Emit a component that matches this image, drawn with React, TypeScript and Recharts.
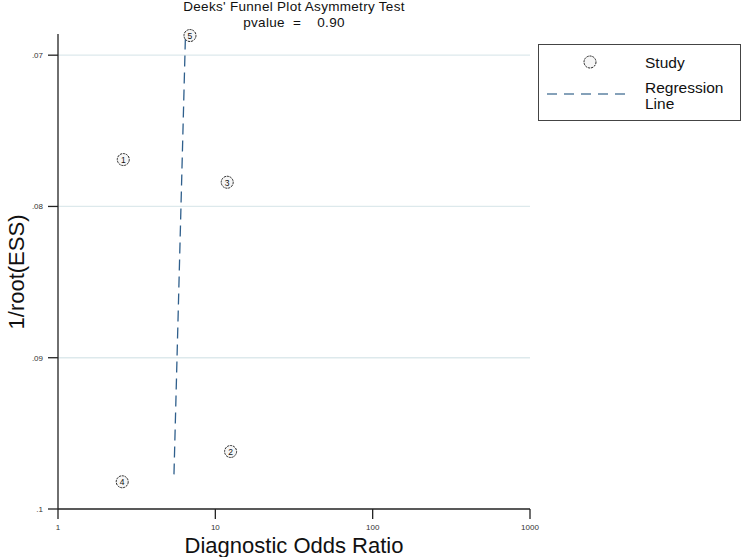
import { ScatterChart, Scatter, XAxis, YAxis, CartesianGrid } from "recharts";

// studies: id, diagnostic odds ratio, 1/root(ESS)
const studyIds = [1, 2, 3, 4, 5];
const dorValues = [2.6, 12.5, 11.9, 2.56, 6.9];
const invRootEss = [0.0769, 0.0962, 0.0784, 0.0982, 0.0687];

// regression line end points
const regDor = [6.45, 5.45];
const regInvRootEss = [0.0689, 0.098];

const xTicks = [1, 10, 100, 1000];
const yTicks = [0.07, 0.08, 0.09, 0.1];
const gridValues = [0.07, 0.08, 0.09];

const studies = studyIds.map((id, i) => ({
  id,
  x: dorValues[i],
  y: invRootEss[i],
}));
const regLine = regDor.map((x, i) => ({ x, y: regInvRootEss[i] }));

const font = "'Liberation Sans', Arial, sans-serif";
const lineColor = "#2f5f8c";

function StudyMarker(props: any) {
  const { cx, cy, payload } = props;
  return (
    <g>
      <circle cx={cx} cy={cy} r={6} fill="#f6f6f6" stroke="#111" strokeWidth={0.9} strokeDasharray="2.2 0.8" />
      <text x={cx} y={cy + 0.5} textAnchor="middle" dominantBaseline="central" fontSize={8.5} fill="#111" fontFamily={font}>
        {payload.id}
      </text>
    </g>
  );
}

const fmtY = (v: number) => (v === 0.1 ? ".1" : v.toFixed(2).replace(/^0/, ""));

export default function App() {
  return (
    <div style={{ position: "absolute", left: 0, top: 0, width: 742, height: 557, background: "#fff", fontFamily: font }}>
      {/* title */}
      <div style={{ position: "absolute", left: 58, width: 472, top: -1, textAlign: "center", fontSize: 13.5, lineHeight: "15.5px", letterSpacing: 0.3, color: "#111" }}>
        <div>Deeks' Funnel Plot Asymmetry Test</div>
        <div style={{ whiteSpace: "pre" }}>{"pvalue  =    0.90"}</div>
      </div>

      <ScatterChart width={742} height={557} margin={{ top: 34, right: 212, bottom: 0, left: 0 }}>
        <CartesianGrid horizontal vertical={false} horizontalValues={gridValues} stroke="#dde9ec" strokeWidth={1.3} />
        <XAxis
          type="number"
          dataKey="x"
          scale="log"
          domain={[1, 1000]}
          ticks={xTicks}
          allowDataOverflow
          height={48}
          tickSize={10}
          tickMargin={5}
          stroke="#222"
          strokeWidth={1.3}
          tick={{ fontSize: 8, fill: "#333", fontFamily: font }}
          label={{ value: "Diagnostic Odds Ratio", position: "insideBottom", offset: 4, fontSize: 22, fill: "#111", fontFamily: font }}
        />
        <YAxis
          type="number"
          dataKey="y"
          reversed
          domain={[0.0686, 0.1]}
          ticks={yTicks}
          width={58}
          tickSize={10}
          tickMargin={5}
          tickFormatter={fmtY}
          stroke="#222"
          strokeWidth={1.3}
          tick={{ fontSize: 8, fill: "#333", fontFamily: font }}
          label={{
            content: () => (
              <text x={16} y={272} transform="rotate(-90 16 272)" textAnchor="middle" dominantBaseline="central" fontSize={22} fill="#111" fontFamily={font}>
                1/root(ESS)
              </text>
            ),
          }}
        />
        <Scatter
          data={regLine}
          line={{ stroke: lineColor, strokeWidth: 1.3, strokeDasharray: "11 6" }}
          shape={() => <g />}
          isAnimationActive={false}
        />
        <Scatter data={studies} shape={StudyMarker} isAnimationActive={false} />
      </ScatterChart>

      {/* legend */}
      <div style={{ position: "absolute", left: 538, top: 44, width: 201, height: 75, border: "1.5px solid #444", fontSize: 15.5, color: "#111" }}>
        <svg width={20} height={20} style={{ position: "absolute", left: 41, top: 7 }}>
          <circle cx={10} cy={10} r={6} fill="#f6f6f6" stroke="#111" strokeWidth={0.9} strokeDasharray="2.2 0.8" />
        </svg>
        <div style={{ position: "absolute", left: 106, top: 9, lineHeight: "18px" }}>Study</div>
        <svg width={84} height={6} style={{ position: "absolute", left: 8, top: 46 }}>
          <line x1={0} y1={3} x2={84} y2={3} stroke="#5d82a3" strokeWidth={1.3} strokeDasharray="10 7" />
        </svg>
        <div style={{ position: "absolute", left: 106, top: 35, lineHeight: "16px" }}>
          Regression
          <br />
          Line
        </div>
      </div>
    </div>
  );
}
